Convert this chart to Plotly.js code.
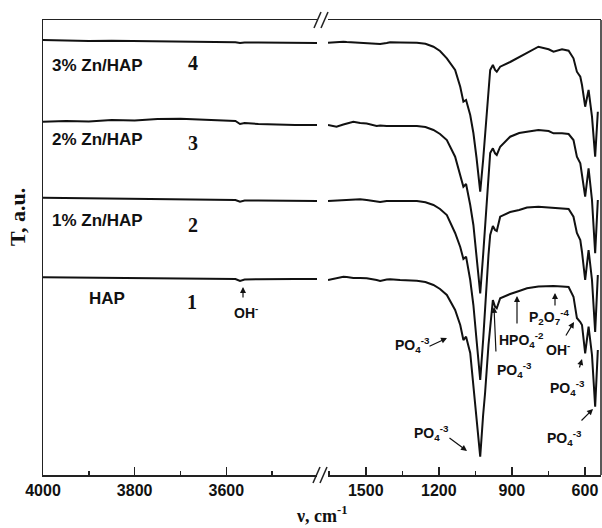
<!DOCTYPE html>
<html>
<head>
<meta charset="utf-8">
<script src="https://cdn.plot.ly/plotly-3.0.1.min.js"></script>
<style>html,body{margin:0;padding:0;background:#fff}#chart{width:602px;height:528px}</style>
</head>
<body>
<div id="chart"></div>
<script>
// ---- data (wavenumber, cm-1; transmittance in arbitrary units, curves offset) ----
var wnLeft = [4000, 3950, 3900, 3850, 3800, 3750, 3700, 3650, 3600, 3580, 3570, 3560, 3530, 3500, 3450, 3402];
var wnRight = [1655, 1620, 1592, 1578, 1551, 1523, 1496, 1455, 1441, 1414, 1400, 1359, 1290, 1255, 1222,
  1195, 1167, 1133, 1112, 1099, 1088, 1071, 1058, 1045, 1030, 1018, 1010, 996, 989, 978,
  969, 962, 948, 907, 870, 838, 791, 749, 729, 694, 667, 647, 633, 619,
  612, 599, 585, 571, 558, 547];

// 1 - HAP
var t1Left = [197.7, 197.5, 197, 196.7, 196.7, 196.5, 196.3, 196.5, 196.3, 196, 194, 195.5, 195.7, 196, 196, 196];
var t1Right = [195, 197, 198.3, 198, 197, 197, 196.7, 195, 194, 195.5, 195.7, 195, 194.3, 193, 190,
  186, 180, 165, 150, 135, 138.3, 122, 90, 60, 18.3, 60, 82, 130, 148.3, 175,
  168.3, 166.7, 176.7, 181, 184, 186.7, 188.5, 189, 189, 188.5, 188, 178.3, 157, 153,
  150, 121.7, 148.3, 120, 68.3, 125];
// 2 - 1% Zn/HAP
var t2Left = [277.3, 277, 276.5, 276.5, 276, 276, 275.5, 275.5, 275, 275, 273.3, 274.5, 274.5, 274.5, 274.3, 274];
var t2Right = [274, 274.5, 275, 275.5, 275.7, 275.7, 275, 273, 273, 274, 274, 274, 274, 272.7, 270,
  266, 260, 242, 228, 216, 218.3, 195, 170, 135, 95, 135, 170, 220, 240, 249,
  245, 244, 258.3, 263, 265, 267.5, 268.3, 267.5, 266.7, 266.7, 266, 258.3, 242, 235,
  223, 195, 225, 195, 143, 200];
// 3 - 2% Zn/HAP
var t3Left = [353.3, 354, 353.5, 355, 354.5, 356, 356.3, 355.5, 354.5, 354, 351, 352, 351, 350.5, 350, 350];
var t3Right = [350, 348.3, 350.5, 351.7, 353.3, 352, 351.5, 349, 349.5, 349, 349, 349, 349, 348, 345,
  341, 335, 318.3, 298.3, 288.3, 291, 270, 250, 220, 181.7, 220, 250, 300, 322, 326.7,
  321.7, 320, 328.3, 338.3, 342, 343.3, 345, 344, 341.7, 341.7, 341, 335, 318.3, 311.7,
  300, 278.3, 306.7, 275, 221.7, 275];
// 4 - 3% Zn/HAP
var t4Left = [435, 434.5, 434, 434.3, 434, 433.7, 434, 433.5, 433, 432.7, 432, 432.5, 432.5, 432.3, 432.3, 432];
var t4Right = [432.3, 433, 433.3, 433, 432.7, 432.5, 432.3, 431.5, 431, 432, 432.7, 432.5, 432.3, 431.2, 428.3,
  424, 416.7, 405, 388.3, 373.3, 375, 360, 342, 317, 283.3, 315, 342, 385, 405, 410,
  405, 403.3, 408.3, 413, 418, 421.7, 428.3, 425.7, 423.3, 425.7, 424.3, 416.7, 403.3, 398.3,
  390, 368.3, 385, 358.3, 318.3, 363.3];

var sampleNames = ['HAP', '1% Zn/HAP', '2% Zn/HAP', '3% Zn/HAP'];
var curveNumbers = ['1', '2', '3', '4'];
var leftSets = [t1Left, t2Left, t3Left, t4Left];
var rightSets = [t1Right, t2Right, t3Right, t4Right];

// ---- geometry ----
var W = 602, H = 528, ML = 43, MR = 1, MT = 20, MB = 53;
var PW = W - ML - MR, PH = H - MT - MB;
function px(x) { return (x - ML) / PW; }
function py(y) { return (H - MB - y) / PH; }

var lineStyle = {color: '#111', width: 2};
var traces = [];
for (var i = 0; i < 4; i++) {
  traces.push({x: wnLeft, y: leftSets[i], xaxis: 'x', yaxis: 'y', mode: 'lines', line: lineStyle, name: sampleNames[i], hoverinfo: 'skip'});
  traces.push({x: wnRight, y: rightSets[i], xaxis: 'x2', yaxis: 'y', mode: 'lines', line: lineStyle, name: sampleNames[i], hoverinfo: 'skip'});
}

var sans = 'Liberation Sans, Arial, sans-serif';
var serif = 'Liberation Serif, Times New Roman, serif';
var axCol = '#222';
function xax(domain, range, tick0, dtick, mdtick) {
  return {
    domain: domain, range: range, tick0: tick0, dtick: dtick, anchor: 'y',
    ticks: 'inside', ticklen: 8, tickwidth: 1.5, tickcolor: axCol,
    showline: true, linewidth: 1.5, linecolor: axCol, mirror: true,
    showgrid: false, zeroline: false,
    tickfont: {family: sans, size: 16, weight: 'bold', color: '#111'},
    minor: {dtick: mdtick, tick0: tick0, ticks: 'inside', ticklen: 4, tickwidth: 1.5, tickcolor: axCol, showgrid: false}
  };
}

var ann = [];
function txt(t, x, y, size, fam, xa) {
  ann.push({text: t, xref: 'paper', yref: 'paper', x: px(x), y: py(y), xanchor: xa || 'center', yanchor: 'middle',
    showarrow: false, font: {family: fam || sans, size: size || 14, weight: 'bold', color: '#111'}});
}
function arrow(hx, hy, tx, ty) {
  ann.push({text: '', xref: 'paper', yref: 'paper', x: px(hx), y: py(hy), ax: tx - hx, ay: ty - hy,
    showarrow: true, arrowhead: 2, arrowsize: 1, arrowwidth: 1.2, arrowcolor: '#111', standoff: 0, startstandoff: 0});
}
// left labels
txt(sampleNames[3], 50, 65, 17, sans, 'left');  txt(curveNumbers[3], 193, 63, 20, serif);
txt(sampleNames[2], 50, 140, 17, sans, 'left'); txt(curveNumbers[2], 193, 143, 20, serif);
txt(sampleNames[1], 50, 220, 17, sans, 'left'); txt(curveNumbers[1], 193, 225, 20, serif);
txt(sampleNames[0], 87, 298, 17, sans, 'left'); txt(curveNumbers[0], 192, 302, 20, serif);
txt('OH<sup>-</sup>', 246, 312, 14);
arrow(243, 287, 243, 299);
// band assignments
var po4 = 'PO<sub>4</sub><sup>-3</sup>';
txt(po4, 412, 345, 14); arrow(447, 338, 428, 347);
txt(po4, 431, 433, 14); arrow(467, 451, 448, 437);
txt('HPO<sub>4</sub><sup>-2</sup>', 521, 340, 14); arrow(517, 296, 517, 325);
txt(po4, 514, 370, 14); arrow(494, 307, 496, 353);
txt('P<sub>2</sub>O<sub>7</sub><sup>-4</sup>', 549, 317, 14); arrow(555, 293, 555, 307);
txt('OH<sup>-</sup>', 558, 349, 14); arrow(574, 322, 565, 337);
txt(po4, 567, 388, 14); arrow(582, 359, 579, 369);
txt(po4, 564, 438, 14); arrow(593, 409, 580, 422);
// axis titles
ann.push({text: 'T, a.u.', xref: 'paper', yref: 'paper', x: px(17), y: py(217), textangle: -90, showarrow: false,
  xanchor: 'center', yanchor: 'middle', font: {family: serif, size: 22, weight: 'bold', color: '#111'}});
ann.push({text: '\u03bd, cm<sup>-1</sup>', xref: 'paper', yref: 'paper', x: px(322), y: py(514), showarrow: false,
  xanchor: 'center', yanchor: 'middle', font: {family: serif, size: 18, weight: 'bold', color: '#111'}});

// frame pieces: right border and axis-break marks
var shp = [];
function seg(x0, y0, x1, y1) {
  shp.push({type: 'line', xref: 'paper', yref: 'paper', x0: px(x0), y0: py(y0), x1: px(x1), y1: py(y1), line: {color: axCol, width: 1.5}});
}
seg(601, 20, 601, 475);
seg(314, 28, 321, 12); seg(321, 28, 328, 12);
seg(313, 483, 320, 467); seg(320, 483, 327, 467);

var layout = {
  width: W, height: H, margin: {l: ML, r: MR, t: MT, b: MB, pad: 0},
  paper_bgcolor: '#fff', plot_bgcolor: '#fff', showlegend: false,
  xaxis: xax([0, px(317)], [4000, 3402], 4000, 200, 100),
  xaxis2: xax([px(328), 1], [1655, 534], 1500, 300, 150),
  yaxis: {range: [0, 455], showline: true, linewidth: 1.5, linecolor: axCol, showticklabels: false, ticks: '',
    showgrid: false, zeroline: false},
  annotations: ann, shapes: shp
};
Plotly.newPlot('chart', traces, layout, {staticPlot: true, displayModeBar: false});
</script>
</body>
</html>
